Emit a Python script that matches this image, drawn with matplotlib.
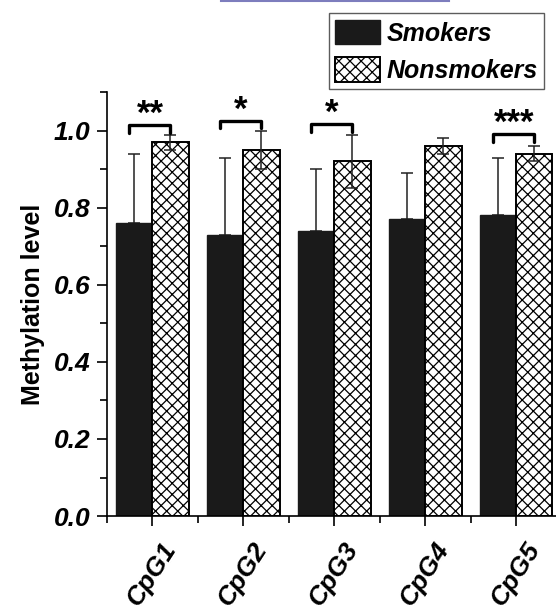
import numpy as np
import matplotlib
matplotlib.use('Agg')
import matplotlib.pyplot as plt
from matplotlib.ticker import MultipleLocator, FixedLocator

plt.rcParams['font.family'] = ['Liberation Sans', 'DejaVu Sans']
plt.rcParams['hatch.linewidth'] = 0.9

# values
sites = ['CpG1', 'CpG2', 'CpG3', 'CpG4', 'CpG5']
smokers = [0.76, 0.73, 0.74, 0.77, 0.78]
smokers_err = [0.18, 0.20, 0.16, 0.12, 0.15]
nonsmokers = [0.97, 0.95, 0.92, 0.96, 0.94]
nonsmokers_err = [0.02, 0.05, 0.07, 0.02, 0.02]
stars = ['**', '*', '*', '', '***']
bracket_top = [1.015, 1.026, 1.017, None, 0.991]

x = np.arange(1, len(sites) + 1)
w = 0.4

fig = plt.figure(figsize=(5.56, 6.10), dpi=100)
ax = fig.add_axes([0.192, 0.154, 0.818, 0.695])

ax.bar(x - w/2, smokers, w, color='#1a1a1a', edgecolor='#1a1a1a', label='Smokers', zorder=2)
ax.bar(x + w/2, nonsmokers, w, color='white', edgecolor='black', hatch='xxx',
       linewidth=1.4, label='Nonsmokers', zorder=2)

ax.errorbar(x - w/2, smokers, yerr=[np.zeros(len(x)), smokers_err], fmt='none',
            ecolor='#222222', elinewidth=1.1, capsize=4, capthick=1.1, zorder=1)
ax.errorbar(x + w/2, nonsmokers, yerr=nonsmokers_err, fmt='none',
            ecolor='#222222', elinewidth=1.1, capsize=4, capthick=1.1, zorder=3)

# significance brackets
for xi, s, top in zip(x, stars, bracket_top):
    if not s:
        continue
    x0, x1 = xi - 0.25, xi + 0.2
    ax.plot([x0, x0, x1, x1], [top - 0.02, top, top, top - 0.02],
            color='black', lw=2.4, solid_capstyle='round', clip_on=False, zorder=4)
    ax.text((x0 + x1) / 2, top - 0.016, s, ha='center', va='bottom',
            fontsize=25, fontweight='bold', clip_on=False)

ax.set_xlim(0.5, 5.5)
ax.set_ylim(0, 1.1)
ax.set_xticks(x)
ax.set_xticklabels(sites, rotation=57, ha='center', va='top',
                   fontsize=19, fontweight='bold', fontstyle='italic')
ax.xaxis.set_minor_locator(FixedLocator(x - 0.5))
ax.set_yticks([0.0, 0.2, 0.4, 0.6, 0.8, 1.0])
ax.set_yticklabels(['0.0', '0.2', '0.4', '0.6', '0.8', '1.0'],
                   fontsize=19, fontweight='bold', fontstyle='italic')
ax.yaxis.set_minor_locator(MultipleLocator(0.1))
ax.tick_params(axis='both', which='major', direction='out', length=7, width=1.2)
ax.tick_params(axis='both', which='minor', direction='out', length=5, width=1.2)
ax.tick_params(axis='x', which='major', pad=9)
ax.tick_params(axis='y', which='major', pad=5)
ax.set_ylabel('Methylation level', fontsize=18, fontweight='bold', labelpad=6)

for side in ['top', 'right']:
    ax.spines[side].set_visible(False)
for side in ['left', 'bottom']:
    ax.spines[side].set_linewidth(1.2)

leg = fig.legend(loc='upper right', bbox_to_anchor=(0.978, 0.978),
                 prop={'size': 18, 'weight': 'bold', 'style': 'italic'},
                 handlelength=1.8, handleheight=1.15, handletextpad=0.25,
                 labelspacing=0.45, borderpad=0.25, borderaxespad=0,
                 frameon=True, fancybox=False, edgecolor='#333333')
leg.get_frame().set_linewidth(1.0)

# thin link underline at the very top of the picture
fig.add_artist(plt.Line2D([0.398, 0.807], [0.998, 0.998], color='#7d7dbd', lw=1.5))

fig.savefig('out.png', dpi=100)
